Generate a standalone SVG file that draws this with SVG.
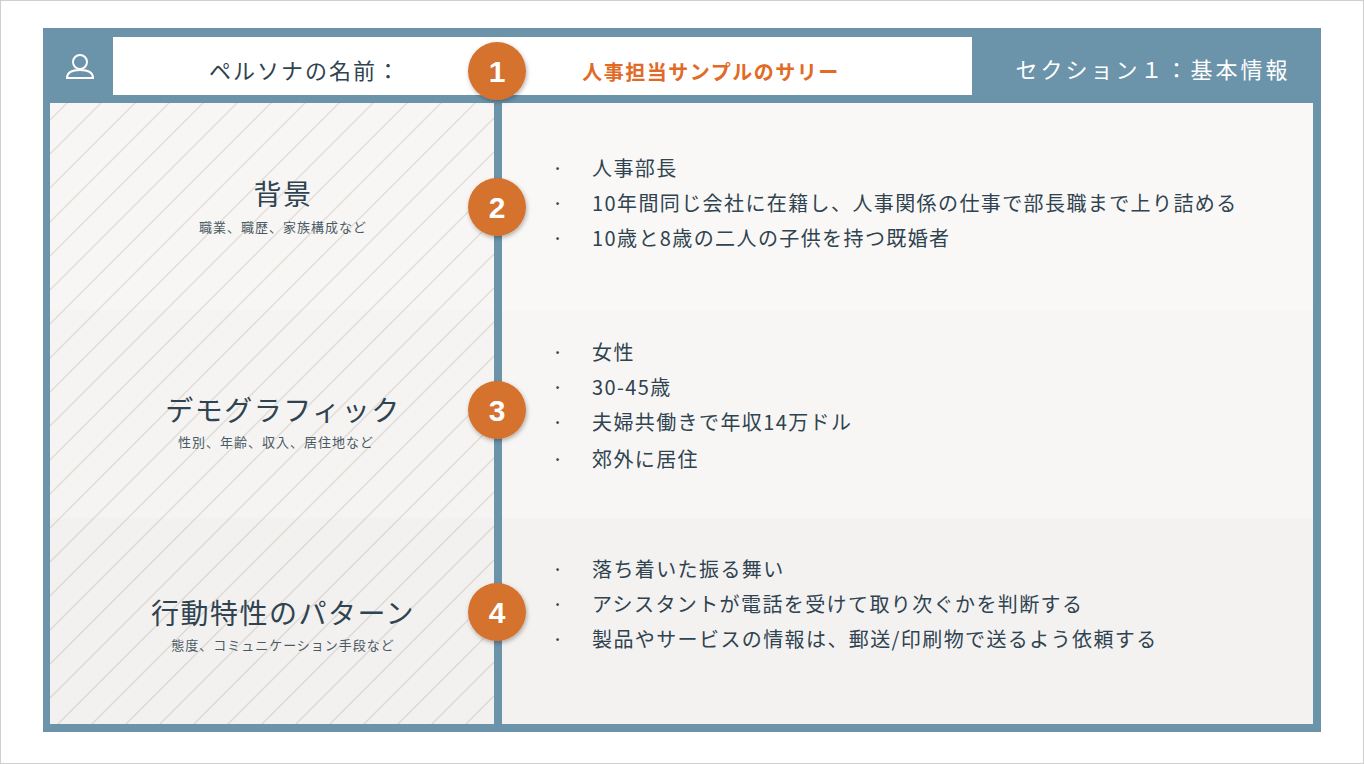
<svg xmlns="http://www.w3.org/2000/svg" width="1364" height="764" viewBox="0 0 1364 764">
<style>
.jp{font-family:"Noto Sans CJK JP","Noto Sans",sans-serif;fill:#2f4350}
.b{font-size:20px;letter-spacing:1.4px}
.t{font-size:28px;text-anchor:middle;letter-spacing:1.5px}
.s{font-size:13px;text-anchor:middle;letter-spacing:1px;fill:#4a5a64}
.n{font-family:"Liberation Sans",Arial,sans-serif;font-weight:bold;font-size:30px;fill:#fff;text-anchor:middle}
.badge{fill:#d4722e}
</style>
<defs>
<pattern id="h" patternUnits="userSpaceOnUse" width="34" height="34">
<rect width="34" height="34" fill="#f8f6f4"/>
<path d="M0 34 L34 0 M-2 2 L2 -2 M32 36 L36 32" stroke="#e2ddd8" stroke-width="1.4"/>
</pattern>
<filter id="sh" x="-30%" y="-30%" width="160%" height="160%"><feDropShadow dx="1" dy="2" stdDeviation="2" flood-opacity="0.3"/></filter>
</defs>
<rect x="0.5" y="0.5" width="1363" height="763" fill="#fff" stroke="#cfcfcf"/>
<rect x="43" y="28" width="1278" height="704" fill="#6b93aa"/>
<g id="header">
<rect x="113" y="37" width="859" height="58" fill="#fff"/>
<g fill="none" stroke="#fff" stroke-width="2">
<circle cx="80" cy="62" r="7"/>
<path d="M67 78 Q67 70 80 70 Q93 70 93 78 Z"/>
</g>
<text class="jp" x="305" y="79" font-size="22" letter-spacing="2" text-anchor="middle">ペルソナの名前：</text>
<text x="711" y="80" font-size="20" letter-spacing="1.5" font-weight="bold" fill="#e06a26" text-anchor="middle" font-family="Noto Sans CJK JP,sans-serif">人事担当サンプルのサリー</text>
<text x="1153" y="78" font-size="22" letter-spacing="3" fill="#fff" text-anchor="middle" font-family="Noto Sans CJK JP,sans-serif">セクション１：基本情報</text>
</g>
<g id="left">
<rect x="50" y="103" width="444" height="621" fill="url(#h)"/>
<rect x="50" y="310" width="444" height="208" fill="#000" opacity="0.008"/>
<rect x="50" y="518" width="444" height="206" fill="#000" opacity="0.02"/>
<text class="jp t" x="283" y="205">背景</text>
<text class="jp s" x="283" y="232">職業、職歴、家族構成など</text>
<text class="jp t" x="283" y="421">デモグラフィック</text>
<text class="jp s" x="276" y="447">性別、年齢、収入、居住地など</text>
<text class="jp t" x="283" y="624">行動特性のパターン</text>
<text class="jp s" x="283" y="650">態度、コミュニケーション手段など</text>
</g>
<g id="right">
<rect x="502" y="103" width="811" height="207" fill="#faf8f6"/>
<rect x="502" y="310" width="811" height="208" fill="#f8f6f4"/>
<rect x="502" y="518" width="811" height="206" fill="#f4f2f0"/>
<g class="jp b">
<text x="552" y="176">·</text><text x="592" y="176">人事部長</text>
<text x="552" y="211">·</text><text x="592" y="211">10年間同じ会社に在籍し、人事関係の仕事で部長職まで上り詰める</text>
<text x="552" y="246">·</text><text x="592" y="246">10歳と8歳の二人の子供を持つ既婚者</text>
<text x="552" y="360">·</text><text x="592" y="360">女性</text>
<text x="552" y="395">·</text><text x="592" y="395">30-45歳</text>
<text x="552" y="430">·</text><text x="592" y="430">夫婦共働きで年収14万ドル</text>
<text x="552" y="467">·</text><text x="592" y="467">郊外に居住</text>
<text x="552" y="577">·</text><text x="592" y="577">落ち着いた振る舞い</text>
<text x="552" y="612">·</text><text x="592" y="612">アシスタントが電話を受けて取り次ぐかを判断する</text>
<text x="552" y="647">·</text><text x="592" y="647">製品やサービスの情報は、郵送/印刷物で送るよう依頼する</text>
</g>
</g>
<g id="badges">
<g filter="url(#sh)">
<circle class="badge" cx="497" cy="71" r="29"/>
<circle class="badge" cx="497" cy="207" r="29"/>
<circle class="badge" cx="497" cy="410" r="29"/>
<circle class="badge" cx="497" cy="612" r="29"/>
</g>
<text class="n" x="497" y="82">1</text>
<text class="n" x="497" y="218">2</text>
<text class="n" x="497" y="421">3</text>
<text class="n" x="497" y="623">4</text>
</g>
</svg>
